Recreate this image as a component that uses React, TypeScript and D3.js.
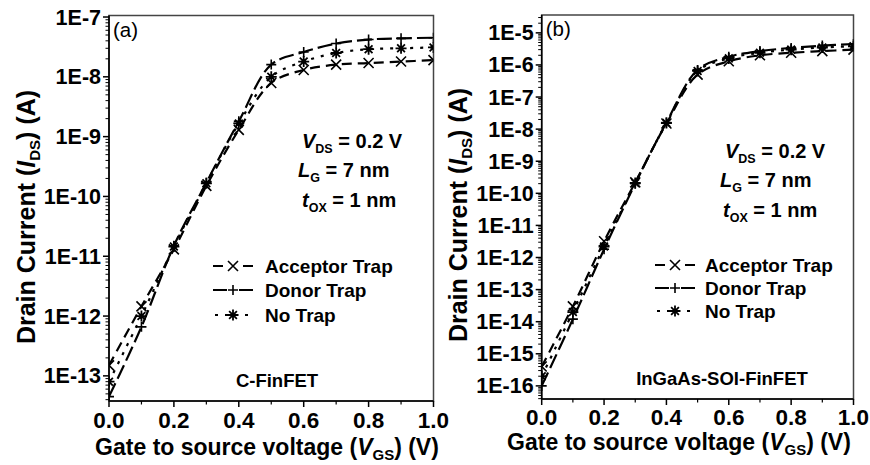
import React from "react";
import * as d3 from "d3";

// ---------- data ----------
const vgs = [0, 0.1, 0.2, 0.3, 0.4, 0.5, 0.6, 0.7, 0.8, 0.9, 1.0];

const aAcceptor = [1.5e-13, 1.45e-12, 1.3e-11, 1.5e-10, 1.3e-9, 7.9e-9, 1.3e-8, 1.6e-8, 1.7e-8, 1.8e-8, 1.9e-8];
const aDonor = [4.5e-14, 6.6e-13, 1.5e-11, 1.7e-10, 1.8e-9, 1.6e-8, 2.6e-8, 3.6e-8, 4.2e-8, 4.4e-8, 4.5e-8];
const aNone = [8e-14, 1.0e-12, 1.45e-11, 1.66e-10, 1.66e-9, 1.0e-8, 1.8e-8, 2.5e-8, 2.9e-8, 3.0e-8, 3.1e-8];

const bAcceptor = [4e-16, 3e-14, 3.2e-12, 2.2e-10, 1.5e-8, 5e-7, 1.3e-6, 2.0e-6, 2.4e-6, 2.7e-6, 3.0e-6];
const bDonor = [1e-16, 1.2e-14, 1.8e-12, 2.0e-10, 1.6e-8, 7e-7, 1.8e-6, 2.7e-6, 3.4e-6, 4.0e-6, 4.5e-6];
const bNone = [2e-16, 2e-14, 2.2e-12, 2.1e-10, 1.55e-8, 6.5e-7, 1.6e-6, 2.4e-6, 3.0e-6, 3.5e-6, 3.8e-6];

const seriesNames = ["Acceptor Trap", "Donor Trap", "No Trap"];

const xTicks = [0, 0.2, 0.4, 0.6, 0.8, 1.0];
const xTickLabels = ["0.0", "0.2", "0.4", "0.6", "0.8", "1.0"];
const xMinorTicks = [0.1, 0.3, 0.5, 0.7, 0.9];

const aYTicks = [1e-13, 1e-12, 1e-11, 1e-10, 1e-9, 1e-8, 1e-7];
const aYTickLabels = ["1E-13", "1E-12", "1E-11", "1E-10", "1E-9", "1E-8", "1E-7"];
const bYTicks = [1e-16, 1e-15, 1e-14, 1e-13, 1e-12, 1e-11, 1e-10, 1e-9, 1e-8, 1e-7, 1e-6, 1e-5];
const bYTickLabels = ["1E-16", "1E-15", "1E-14", "1E-13", "1E-12", "1E-11", "1E-10", "1E-9", "1E-8", "1E-7", "1E-6", "1E-5"];

// ---------- styling ----------
const FONT = "'Liberation Sans', Arial, Helvetica, sans-serif";
const dashes = ["10,6", "15,5", "3,7"];
const markerKinds = ["x", "+", "*"];

function Marker({ kind, x, y }: { kind: string; x: number; y: number }) {
  const s = 5;
  if (kind === "x")
    return (
      <path d={`M${x - s},${y - s}L${x + s},${y + s}M${x - s},${y + s}L${x + s},${y - s}`} stroke="#000" strokeWidth={1.6} fill="none" />
    );
  if (kind === "+")
    return (
      <path d={`M${x - s},${y}L${x + s},${y}M${x},${y - s}L${x},${y + s}`} stroke="#000" strokeWidth={1.6} fill="none" />
    );
  const r = 5.5;
  let d = "";
  for (let i = 0; i < 4; i++) {
    const a = (i * Math.PI) / 4;
    d += `M${x - r * Math.cos(a)},${y - r * Math.sin(a)}L${x + r * Math.cos(a)},${y + r * Math.sin(a)}`;
  }
  return <path d={d} stroke="#000" strokeWidth={1.8} fill="none" />;
}

type PanelProps = {
  left: number; right: number; top: number; bottom: number;
  yDomain: [number, number];
  yTicks: number[]; yTickLabels: string[];
  series: number[][];
  tag: string; device: string; deviceX: number; deviceY: number;
  annX: number[]; annY: number[];
  legX: number; legText: number; legY: number[];
  yTitleX: number; yTitleY: number;
  xTitleX: number; xTitleY: number; xLabelY: number;
  clipId: string;
};

function Panel(p: PanelProps) {
  const x = d3.scaleLinear().domain([0, 1]).range([p.left, p.right]);
  const y = d3.scaleLog().domain(p.yDomain).range([p.bottom, p.top]);
  const line = d3
    .line<number>()
    .x((_, i) => x(vgs[i]))
    .y((v) => y(v))
    .curve(d3.curveCatmullRom.alpha(0.5));

  const lo = Math.floor(Math.log10(p.yDomain[0]));
  const hi = Math.ceil(Math.log10(p.yDomain[1]));
  const minor: number[] = [];
  for (let e = lo; e <= hi; e++) {
    for (let m = 2; m <= 9; m++) {
      const v = m * Math.pow(10, e);
      if (v >= p.yDomain[0] && v <= p.yDomain[1]) minor.push(v);
    }
  }

  return (
    <g fontFamily={FONT}>
      <defs>
        <clipPath id={p.clipId}>
          <rect x={p.left} y={p.top} width={p.right - p.left} height={p.bottom - p.top} />
        </clipPath>
      </defs>
      {/* frame */}
      <rect x={p.left} y={p.top} width={p.right - p.left} height={p.bottom - p.top} fill="none" stroke="#444" strokeWidth={1.5} />
      <line x1={p.left} x2={p.left} y1={p.top} y2={p.bottom} stroke="#000" strokeWidth={1.6} />
      <line x1={p.left} x2={p.right} y1={p.bottom} y2={p.bottom} stroke="#000" strokeWidth={1.6} />

      {/* y ticks */}
      {minor.map((v, i) => (
        <line key={"ym" + i} x1={p.left - 3.5} x2={p.left} y1={y(v)} y2={y(v)} stroke="#000" strokeWidth={1} />
      ))}
      {p.yTicks.map((v, i) => (
        <g key={"yt" + i}>
          <line x1={p.left - 6} x2={p.left} y1={y(v)} y2={y(v)} stroke="#000" strokeWidth={1.5} />
          <text x={p.left - 8} y={y(v) + 7.5} textAnchor="end" fontSize={21.5} fontWeight="bold">
            {p.yTickLabels[i]}
          </text>
        </g>
      ))}
      {/* x ticks */}
      {xMinorTicks.map((v, i) => (
        <line key={"xm" + i} x1={x(v)} x2={x(v)} y1={p.bottom} y2={p.bottom + 3.5} stroke="#000" strokeWidth={1.2} />
      ))}
      {xTicks.map((v, i) => (
        <g key={"xt" + i}>
          <line x1={x(v)} x2={x(v)} y1={p.bottom} y2={p.bottom + 6} stroke="#000" strokeWidth={1.5} />
          <text x={x(v)} y={p.xLabelY} textAnchor="middle" fontSize={22.5} fontWeight="bold">
            {xTickLabels[i]}
          </text>
        </g>
      ))}

      {/* series */}
      <g clipPath={`url(#${p.clipId})`}>
        {p.series.map((s, k) => (
          <path key={"s" + k} d={line(s) || ""} fill="none" stroke="#000" strokeWidth={2.2} strokeDasharray={dashes[k]} />
        ))}
        {p.series.map((s, k) =>
          s.map((v, i) => <Marker key={`m${k}-${i}`} kind={markerKinds[k]} x={x(vgs[i])} y={y(v)} />)
        )}
      </g>

      {/* tag */}
      <text x={p.left + 4} y={p.top + 21} fontSize={20.5}>{p.tag}</text>

      {/* annotations */}
      <text x={p.annX[0]} y={p.annY[0]} fontSize={20} fontWeight="bold">
        <tspan fontStyle="italic">V</tspan>
        <tspan fontSize={12.5} dy={5}>DS</tspan>
        <tspan dy={-5}> = 0.2 V</tspan>
      </text>
      <text x={p.annX[1]} y={p.annY[1]} fontSize={20} fontWeight="bold">
        <tspan fontStyle="italic">L</tspan>
        <tspan fontSize={12.5} dy={5}>G</tspan>
        <tspan dy={-5}> = 7 nm</tspan>
      </text>
      <text x={p.annX[2]} y={p.annY[2]} fontSize={20} fontWeight="bold">
        <tspan fontStyle="italic">t</tspan>
        <tspan fontSize={12.5} dy={5}>OX</tspan>
        <tspan dy={-5}> = 1 nm</tspan>
      </text>

      {/* legend */}
      {seriesNames.map((n, k) => (
        <g key={"lg" + k}>
          <line x1={p.legX} x2={p.legX + 40} y1={p.legY[k] - 7} y2={p.legY[k] - 7} stroke="#000" strokeWidth={2.2} strokeDasharray={k === 2 ? "3,7" : k === 1 ? "14,12" : "10,20"} strokeDashoffset={k === 2 ? -2 : 0} />
          <Marker kind={markerKinds[k]} x={p.legX + 20} y={p.legY[k] - 7} />
          <text x={p.legText} y={p.legY[k]} fontSize={19} fontWeight="bold">{n}</text>
        </g>
      ))}

      {/* device label */}
      <text x={p.deviceX} y={p.deviceY} textAnchor="middle" fontSize={18.5} fontWeight="bold">{p.device}</text>

      {/* axis titles */}
      <text transform={`translate(${p.yTitleX},${p.yTitleY}) rotate(-90)`} textAnchor="middle" fontSize={25} fontWeight="bold">
        Drain Current (<tspan fontStyle="italic">I</tspan>
        <tspan fontSize={15} dy={5}>DS</tspan>
        <tspan dy={-5}>) (A)</tspan>
      </text>
      <text x={p.xTitleX} y={p.xTitleY} textAnchor="middle" fontSize={23} fontWeight="bold">
        Gate to source voltage (<tspan fontStyle="italic">V</tspan>
        <tspan fontSize={15} dy={5}>GS</tspan>
        <tspan dy={-5}>) (V)</tspan>
      </text>
    </g>
  );
}

export default function App() {
  return (
    <svg width={870} height={465} style={{ display: "block", position: "absolute", left: 0, top: 0, background: "#fff" }}>
      <rect width={870} height={465} fill="#fff" />
      <Panel
        left={109} right={433.5} top={15.5} bottom={401}
        yDomain={[3.8e-14, 1.06e-7]}
        yTicks={aYTicks} yTickLabels={aYTickLabels}
        series={[aAcceptor, aDonor, aNone]}
        tag="(a)" device="C-FinFET" deviceX={277} deviceY={387}
        annX={[302, 298, 302]} annY={[148, 177, 207]}
        legX={213} legText={265} legY={[273, 297, 322]}
        yTitleX={35} yTitleY={217}
        xTitleX={267} xTitleY={455} xLabelY={428}
        clipId="clipA"
      />
      <Panel
        left={541.7} right={853.5} top={15} bottom={399}
        yDomain={[3.9e-17, 3.6e-5]}
        yTicks={bYTicks} yTickLabels={bYTickLabels}
        series={[bAcceptor, bDonor, bNone]}
        tag="(b)" device="InGaAs-SOI-FinFET" deviceX={722} deviceY={385}
        annX={[725, 720, 723]} annY={[158, 187, 217]}
        legX={655} legText={705} legY={[272, 295, 318]}
        yTitleX={467} yTitleY={215}
        xTitleX={679} xTitleY={450} xLabelY={425}
        clipId="clipB"
      />
    </svg>
  );
}
